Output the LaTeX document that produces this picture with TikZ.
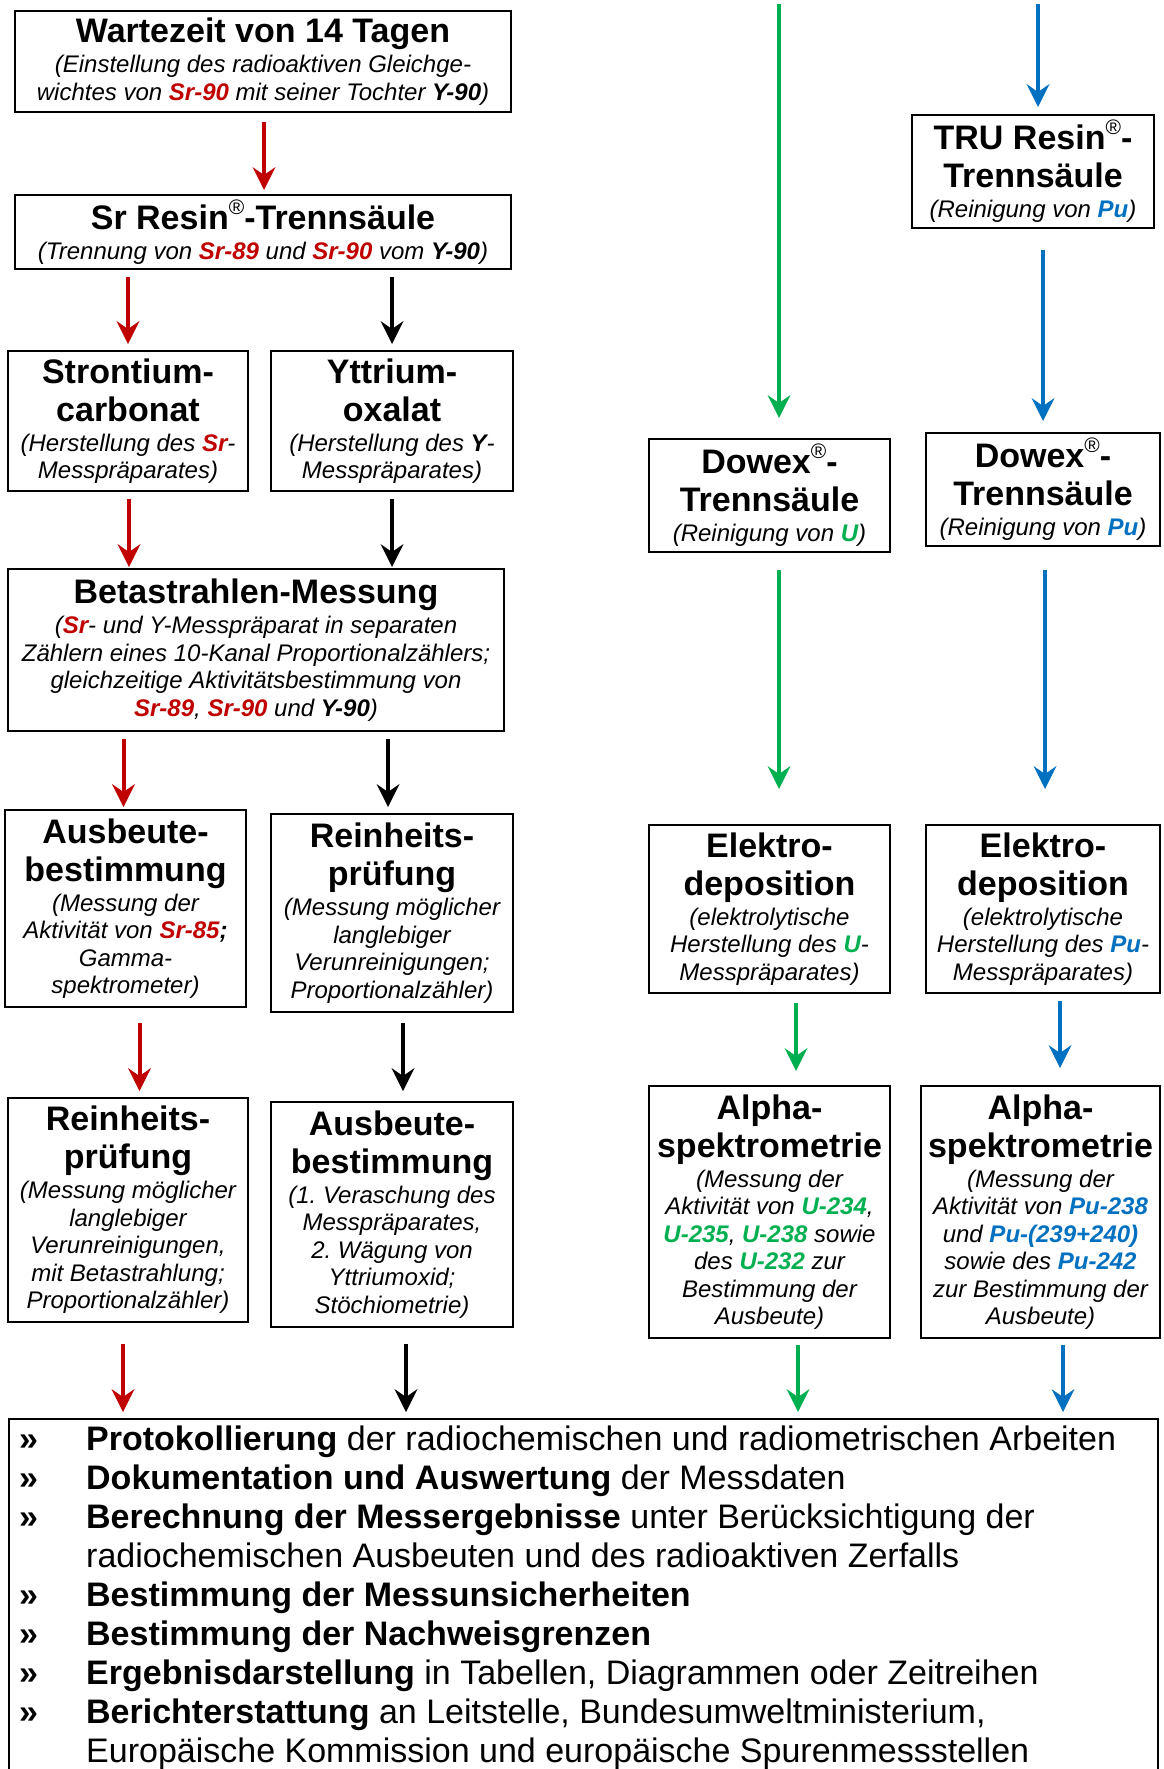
\documentclass[tikz,border=0pt]{standalone}
\usepackage{fontspec}
\setmainfont{Liberation Sans}
\usetikzlibrary{arrows.meta}
\definecolor{cred}{RGB}{192,0,0}
\definecolor{cgreen}{RGB}{0,176,80}
\definecolor{cblue}{RGB}{0,112,192}
\newcommand\fixsp{\spaceskip=0.278em\relax\xspaceskip=0.278em\relax}
\newcommand\ttl{\fontsize{34}{38}\selectfont\bfseries\upshape\fixsp}
\newcommand\sbt{\fontsize{24}{27.5}\selectfont\mdseries\itshape\fixsp}
\newcommand\Rd[1]{\textcolor{cred}{\bfseries #1}}
\newcommand\Gr[1]{\textcolor{cgreen}{\bfseries #1}}
\newcommand\Bu[1]{\textcolor{cblue}{\bfseries #1}}
\newcommand\Kb[1]{{\bfseries #1}}
\newcommand\regm{\raisebox{0.85ex}{\fontsize{21}{21}\selectfont\mdseries ®}}
\newcommand\bxt[2]{{\ttl #1\par}\vspace{2.5pt}{\sbt #2\par}}
\newcommand\itm[1]{\hangindent=67pt\hangafter=1\noindent\makebox[67pt][l]{\bfseries »}#1\par}
\tikzset{
  box/.style={draw, line width=2.6pt, inner sep=0pt, outer sep=0pt, align=center},
  arr/.style={line width=4pt, -{Stealth[length=23pt,width=23pt,inset=8pt,line width=0pt]}},
}
\begin{document}
\begin{tikzpicture}[x=1pt,y=-1pt]
\fill[white] (0,0) rectangle (1164,1769);
\useasboundingbox (0,0) rectangle (1164,1769);

% ---- left part (Sr / Y) ----
\node[box, minimum width=496pt, minimum height=101pt, text width=490pt] (b1) at (263,61.5)
  {\bxt{Wartezeit von 14 Tagen}{(Einstellung des radioaktiven Gleichge-\\wichtes von \Rd{Sr-90} mit seiner Tochter \Kb{Y-90})}};
\node[box, minimum width=496pt, minimum height=74pt, text width=490pt] (b2) at (263,232)
  {\bxt{Sr Resin\regm-Trennsäule}{(Trennung von \Rd{Sr-89} und \Rd{Sr-90} vom \Kb{Y-90})}};
\node[box, minimum width=240pt, minimum height=140pt, text width=236pt] (b3) at (128,421)
  {\bxt{Strontium-\\carbonat}{(Herstellung des \Rd{Sr}-\\Messpräparates)}};
\node[box, minimum width=242pt, minimum height=140pt, text width=238pt] (b4) at (392,421)
  {\bxt{Yttrium-\\oxalat}{(Herstellung des \Kb{Y}-\\Messpräparates)}};
\node[box, minimum width=496pt, minimum height=162pt, text width=490pt] (b5) at (256,650)
  {\bxt{Betastrahlen-Messung}{(\Rd{Sr}- und Y-Messpräparat in separaten\\Zählern eines 10-Kanal Proportionalzählers;\\gleichzeitige Aktivitätsbestimmung von\\\Rd{Sr-89}, \Rd{Sr-90} und \Kb{Y-90})}};
\node[box, minimum width=241pt, minimum height=197pt, text width=237pt] (b6) at (125.5,908.5)
  {\bxt{Ausbeute-\\bestimmung}{(Messung der\\Aktivität von \Rd{Sr-85}\Kb{;}\\Gamma-\\spektrometer)}};
\node[box, minimum width=242pt, minimum height=198pt, text width=238pt] (b7) at (392,913)
  {\bxt{Reinheits-\\prüfung}{(Messung möglicher\\langlebiger\\Verunreinigungen;\\Proportionalzähler)}};
\node[box, minimum width=240pt, minimum height=224pt, text width=236pt] (b8) at (128,1210)
  {\bxt{Reinheits-\\prüfung}{(Messung möglicher\\langlebiger\\Verunreinigungen,\\mit Betastrahlung;\\Proportionalzähler)}};
\node[box, minimum width=242pt, minimum height=225pt, text width=238pt] (b9) at (392,1214.5)
  {\bxt{Ausbeute-\\bestimmung}{(1. Veraschung des\\Messpräparates,\\2. Wägung von\\Yttriumoxid;\\Stöchiometrie)}};

% ---- right part (U / Pu) ----
\node[box, minimum width=242pt, minimum height=113pt, text width=238pt] (b10) at (1033,171.5)
  {\bxt{TRU Resin\regm-\\Trennsäule}{(Reinigung von \Bu{Pu})}};
\node[box, minimum width=241pt, minimum height=113pt, text width=237pt] (b11) at (769.5,495.5)
  {\bxt{Dowex\regm-\\Trennsäule}{(Reinigung von \Gr{U})}};
\node[box, minimum width=234pt, minimum height=113pt, text width=230pt] (b12) at (1043,489.5)
  {\bxt{Dowex\regm-\\Trennsäule}{(Reinigung von \Bu{Pu})}};
\node[box, minimum width=241pt, minimum height=168pt, text width=237pt] (b13) at (769.5,909)
  {\bxt{Elektro-\\deposition}{(elektrolytische\\Herstellung des \Gr{U}-\\Messpräparates)}};
\node[box, minimum width=234pt, minimum height=168pt, text width=232pt] (b14) at (1043,909)
  {\bxt{Elektro-\\deposition}{(elektrolytische\\Herstellung des \Bu{Pu}-\\Messpräparates)}};
\node[box, minimum width=241pt, minimum height=252pt, text width=237pt] (b15) at (769.5,1212)
  {\bxt{Alpha-\\spektrometrie}{(Messung der\\Aktivität von \Gr{U-234},\\\Gr{U-235}, \Gr{U-238} sowie\\des \Gr{U-232} zur\\Bestimmung der\\Ausbeute)}};
\node[box, minimum width=239pt, minimum height=252pt, text width=237pt] (b16) at (1040.5,1212)
  {\bxt{Alpha-\\spektrometrie}{(Messung der\\Aktivität von \Bu{Pu-238}\\und \Bu{Pu-(239+240)}\\sowie des \Bu{Pu-242}\\zur Bestimmung der\\Ausbeute)}};

% ---- bottom summary ----
\node[draw, line width=2.6pt, inner sep=0pt, outer sep=0pt, anchor=north west,
      minimum width=1149pt, minimum height=420pt] (bot) at (9,1419) {};
\node[anchor=north west, inner sep=0pt, text width=1125pt] (list) at (19,1426)
  {\fontsize{34}{38.9}\selectfont\fixsp\raggedright\parindent=0pt
   \itm{\textbf{Protokollierung} der radiochemischen und radiometrischen Arbeiten}
   \itm{\textbf{Dokumentation und Auswertung} der Messdaten}
   \itm{\textbf{Berechnung der Messergebnisse} unter Berücksichtigung der\newline radiochemischen Ausbeuten und des radioaktiven Zerfalls}
   \itm{\textbf{Bestimmung der Messunsicherheiten}}
   \itm{\textbf{Bestimmung der Nachweisgrenzen}}
   \itm{\textbf{Ergebnisdarstellung} in Tabellen, Diagrammen oder Zeitreihen}
   \itm{\textbf{Berichterstattung} an Leitstelle, Bundesumweltministerium,\newline Europäische Kommission und europäische Spurenmessstellen}};

% ---- free ends at top ----
\coordinate (gtop) at (779,4);
\coordinate (btop) at (1038,4);

% ---- arrows: Sr column (red) ----
\draw[arr, cred, shorten <=10pt, shorten >=5pt] ([xshift=1pt]b1.south) -- ([xshift=1pt]b2.north);
\draw[arr, cred, shorten <=8pt, shorten >=7pt] (b2.south -| b3.north) -- (b3.north);
\draw[arr, cred, shorten <=8pt, shorten >=2pt] ([xshift=1pt]b3.south) -- ([xshift=1pt]b3.south |- b5.north);
\draw[arr, cred, shorten <=8pt, shorten >=3pt] ([xshift=-2pt]b5.south -| b6.north) -- ([xshift=-2pt]b6.north);
\draw[arr, cred, shorten <=16pt, shorten >=7pt] ([xshift=14pt]b6.south) -- ([xshift=14pt]b6.south |- b8.north);
\draw[arr, cred, shorten <=22pt, shorten >=7pt] ([xshift=-5pt]b8.south) -- ([xshift=-5pt]b8.south |- bot.north);

% ---- arrows: Y column (black) ----
\draw[arr, black, shorten <=8pt, shorten >=7pt] (b2.south -| b4.north) -- (b4.north);
\draw[arr, black, shorten <=8pt, shorten >=2pt] (b4.south) -- (b4.south |- b5.north);
\draw[arr, black, shorten <=8pt, shorten >=7pt] ([xshift=-4pt]b5.south -| b7.north) -- ([xshift=-4pt]b7.north);
\draw[arr, black, shorten <=11pt, shorten >=11pt] ([xshift=11pt]b7.south) -- ([xshift=11pt]b7.south |- b9.north);
\draw[arr, black, shorten <=17pt, shorten >=7pt] ([xshift=14pt]b9.south) -- ([xshift=14pt]b9.south |- bot.north);

% ---- arrows: U column (green) ----
\draw[arr, cgreen, shorten >=21pt] (gtop) -- (gtop |- b11.north);
\draw[arr, cgreen, shorten <=18pt, shorten >=36pt] ([xshift=9.5pt]b11.south) -- ([xshift=9.5pt]b13.north);
\draw[arr, cgreen, shorten <=10pt, shorten >=15pt] ([xshift=26.5pt]b13.south) -- ([xshift=26.5pt]b15.north);
\draw[arr, cgreen, shorten <=7pt, shorten >=7pt] ([xshift=28.5pt]b15.south) -- ([xshift=28.5pt]b15.south |- bot.north);

% ---- arrows: Pu column (blue) ----
\draw[arr, cblue, shorten >=8pt] (btop) -- (btop |- b10.north);
\draw[arr, cblue, shorten <=22pt, shorten >=12pt] (b10.south -| b12.north) -- (b12.north);
\draw[arr, cblue, shorten <=24pt, shorten >=36pt] ([xshift=2pt]b12.south) -- ([xshift=2pt]b14.north);
\draw[arr, cblue, shorten <=8pt, shorten >=18pt] ([xshift=17pt]b14.south) -- ([xshift=17pt]b14.south |- b16.north);
\draw[arr, cblue, shorten <=7pt, shorten >=7pt] ([xshift=22.5pt]b16.south) -- ([xshift=22.5pt]b16.south |- bot.north);
\end{tikzpicture}
\end{document}
